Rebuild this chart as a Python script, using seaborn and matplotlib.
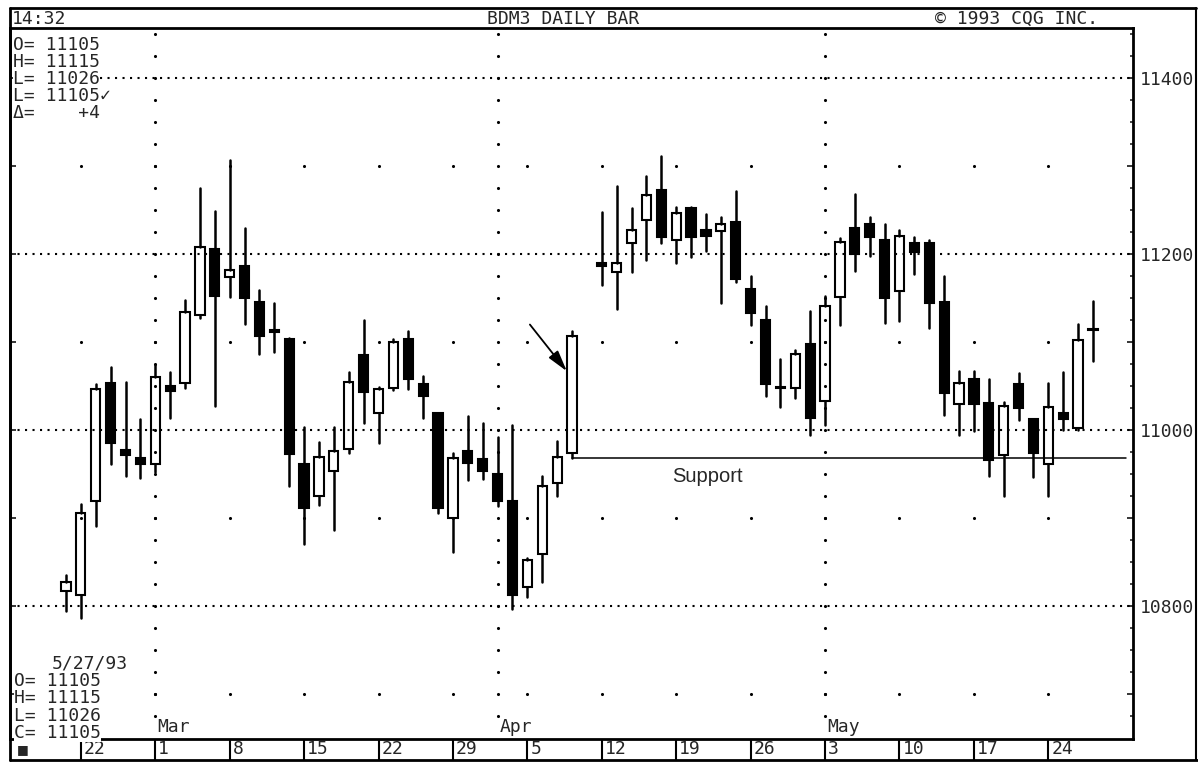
import numpy as np
import pandas as pd
import seaborn as sns
import matplotlib.pyplot as plt

# daily bars, Feb 19 - May 27 1993 (Apr 9 closed)
dates = ['1993-02-19', '1993-02-22', '1993-02-23', '1993-02-24', '1993-02-25', '1993-02-26',
         '1993-03-01', '1993-03-02', '1993-03-03', '1993-03-04', '1993-03-05',
         '1993-03-08', '1993-03-09', '1993-03-10', '1993-03-11', '1993-03-12',
         '1993-03-15', '1993-03-16', '1993-03-17', '1993-03-18', '1993-03-19',
         '1993-03-22', '1993-03-23', '1993-03-24', '1993-03-25', '1993-03-26',
         '1993-03-29', '1993-03-30', '1993-03-31', '1993-04-01', '1993-04-02',
         '1993-04-05', '1993-04-06', '1993-04-07', '1993-04-08',
         '1993-04-12', '1993-04-13', '1993-04-14', '1993-04-15', '1993-04-16',
         '1993-04-19', '1993-04-20', '1993-04-21', '1993-04-22', '1993-04-23',
         '1993-04-26', '1993-04-27', '1993-04-28', '1993-04-29', '1993-04-30',
         '1993-05-03', '1993-05-04', '1993-05-05', '1993-05-06', '1993-05-07',
         '1993-05-10', '1993-05-11', '1993-05-12', '1993-05-13', '1993-05-14',
         '1993-05-17', '1993-05-18', '1993-05-19', '1993-05-20', '1993-05-21',
         '1993-05-24', '1993-05-25', '1993-05-26', '1993-05-27']
opens = [10817, 10813, 10919, 11053, 10977, 10968,
         10962, 11050, 11054, 11131, 11206,
         11174, 11187, 11146, 11112, 11104,
         10961, 10925, 10953, 10978, 11085,
         11020, 11048, 11104, 11052, 11019,
         10900, 10976, 10967, 10950, 10920,
         10822, 10859, 10940, 10974,
         11190, 11180, 11213, 11239, 11273,
         11216, 11252, 11228, 11226, 11236,
         11160, 11125, 11049, 11048, 11098,
         11033, 11151, 11230, 11234, 11216,
         11158, 11213, 11213, 11146, 11030,
         11058, 11031, 10972, 11052, 11013,
         10962, 11019, 11002, 11114]
highs = [10835, 10916, 11053, 11072, 11055, 11013,
         11074, 11066, 11148, 11275, 11249,
         11307, 11230, 11159, 11145, 11105,
         11003, 10986, 11003, 11066, 11125,
         11049, 11104, 11113, 11062, 11020,
         10974, 11016, 11008, 10992, 11006,
         10855, 10948, 10988, 11113,
         11248, 11278, 11252, 11289, 11312,
         11254, 11254, 11246, 11242, 11272,
         11175, 11141, 11081, 11091, 11135,
         11153, 11218, 11268, 11242, 11234,
         11227, 11219, 11216, 11175, 11067,
         11067, 11058, 11032, 11065, 11013,
         11054, 11066, 11121, 11147]
lows = [10794, 10787, 10891, 10961, 10948, 10946,
        10952, 11014, 11048, 11127, 11027,
        11151, 11121, 11086, 11089, 10936,
        10871, 10915, 10887, 10974, 11008,
        10985, 11046, 11047, 11014, 10906,
        10861, 10943, 10945, 10914, 10797,
        10810, 10827, 10925, 10968,
        11165, 11138, 11180, 11193, 11213,
        11190, 11197, 11204, 11145, 11168,
        11120, 11039, 11026, 11036, 10995,
        11006, 11120, 11181, 11198, 11122,
        11124, 11178, 11116, 11017, 10994,
        10999, 10948, 10925, 11012, 10947,
        10925, 11000, 11000, 11079]
closes = [10827, 10906, 11047, 10985, 10972, 10961,
          11060, 11044, 11134, 11208, 11153,
          11182, 11150, 11107, 11114, 10973,
          10912, 10969, 10976, 11055, 11043,
          11047, 11100, 11058, 11039, 10912,
          10968, 10963, 10953, 10920, 10813,
          10852, 10937, 10969, 11107,
          11186, 11190, 11228, 11267, 11219,
          11247, 11220, 11221, 11234, 11172,
          11133, 11053, 11048, 11087, 11014,
          11141, 11214, 11200, 11220, 11150,
          11221, 11202, 11144, 11042, 11054,
          11030, 10966, 11027, 11025, 10974,
          11026, 11013, 11103, 11115]

week_starts = ['1993-02-22', '1993-03-01', '1993-03-08', '1993-03-15', '1993-03-22',
               '1993-03-29', '1993-04-05', '1993-04-12', '1993-04-19', '1993-04-26',
               '1993-05-03', '1993-05-10', '1993-05-17', '1993-05-24']
week_labels = ['22', '1', '8', '15', '22', '29', '5', '12', '19', '26', '3', '10', '17', '24']
month_starts = ['1993-03-01', '1993-04-01', '1993-05-03']
month_labels = ['Mar', 'Apr', 'May']
price_labels = [10800, 11000, 11200, 11400]
week_dot_levels = [10700, 10900, 11100, 11300]

support_start = '1993-04-08'
support_level = 10968
arrow_from = ('1993-04-05', 11120)
arrow_to = ('1993-04-08', 11067)

info_top = ['O= 11105', 'H= 11115', 'L= 11026', 'L= 11105✓', 'Δ=    +4']
info_bottom = ['O= 11105', 'H= 11115', 'L= 11026', 'C= 11105']
info_date = '5/27/93'

first_day = dates[0]
slot = lambda d: np.busday_count(first_day, d)

sns.set_style('white')
mono = ['DejaVu Sans Mono', 'DejaVu Sans']
plt.rcParams['font.family'] = mono

W, H = 1198, 765
fig = plt.figure(figsize=(W / 100, H / 100), dpi=100)
x0, x1, y0, y1 = 10, 1133, 28, 739
ax = fig.add_axes([x0 / W, (H - y1) / H, (x1 - x0) / W, (y1 - y0) / H])

df = pd.DataFrame({'date': dates, 'open': opens, 'high': highs, 'low': lows, 'close': closes})
df['slot'] = [slot(d) for d in df['date']]
df['top'] = df[['open', 'close']].max(axis=1)
df['bot'] = df[['open', 'close']].min(axis=1)

# grid: dense dotted price lines, dots on month lines and week starts
for lvl in price_labels:
    ax.axhline(lvl, color='black', lw=1.5, linestyle=(0, (1, 2.6)), zorder=1)
dots = []
for d in month_starts:
    for lvl in np.arange(10675, 11451, 25):
        dots.append((slot(d), lvl))
for d in week_starts:
    for lvl in week_dot_levels:
        dots.append((slot(d), lvl))
dots = pd.DataFrame(dots, columns=['slot', 'price'])
sns.scatterplot(data=dots, x='slot', y='price', s=5, color='black', linewidth=0,
                legend=False, ax=ax, zorder=1)

# wicks
rows = []
for i, r in df.iterrows():
    rows += [(2 * i, r['slot'], r['high']), (2 * i, r['slot'], r['top']),
             (2 * i + 1, r['slot'], r['bot']), (2 * i + 1, r['slot'], r['low'])]
wicks = pd.DataFrame(rows, columns=['unit', 'slot', 'price'])
sns.lineplot(data=wicks, x='slot', y='price', units='unit', estimator=None, sort=False,
             color='black', linewidth=1.8, legend=False, ax=ax, zorder=2)

# bodies
heights = (df['top'] - df['bot']).clip(lower=1)
faces = ['black' if c < o else 'none' for o, c in zip(df['open'], df['close'])]
ax.bar(df['slot'], heights, bottom=df['bot'], width=0.62, color=faces,
       edgecolor='black', linewidth=1.5, zorder=3)

# support line, label and arrow
ax.plot([slot(support_start), 71.2], [support_level, support_level], color='black', lw=1.1, zorder=2)
ax.text(40.7, 10941, 'Support', family='Liberation Sans', fontsize=14.5, va='baseline', ha='left')
ax.annotate('', xy=(slot(arrow_to[0]) - 0.35, arrow_to[1]),
            xytext=(slot(arrow_from[0]) + 0.17, arrow_from[1]),
            arrowprops=dict(arrowstyle='-|>,head_length=0.8,head_width=0.22',
                            color='black', lw=1.3, mutation_scale=16, shrinkA=0, shrinkB=0))

ax.set_xlim(-3.76, 71.69)
ax.set_ylim(10649, 11457)
ax.set_xlabel('')
ax.set_ylabel('')

# right price scale
ax.yaxis.tick_right()
majors = np.arange(10700, 11401, 100)
ax.set_yticks(majors)
ax.set_yticklabels([str(v) if v in price_labels else '' for v in majors])
ax.set_yticks(np.arange(10675, 11451, 25), minor=True)
ax.tick_params(axis='y', which='major', direction='in', length=4.5, width=1.3,
               left=True, right=True, labelleft=False, labelright=True, pad=5, labelsize=13)
ax.tick_params(axis='y', which='minor', direction='in', length=2.5, width=1.2, left=False, right=True)
ax.set_xticks([])
for sp in ax.spines.values():
    sp.set_linewidth(2)
    sp.set_color('black')

# bottom date row
trans = ax.get_xaxis_transform()
row_h = 21 / (y1 - y0)
ax.vlines([slot(d) for d in week_starts], -row_h, 0, transform=trans, clip_on=False,
          color='black', lw=1.5)
for d, lab in zip(week_starts, week_labels):
    ax.text(slot(d) + 0.2, -row_h / 2, lab, transform=trans, va='center', ha='left', fontsize=13)
for d, lab in zip(month_starts, month_labels):
    ax.text(slot(d) + 0.15, 0.004, lab, transform=trans, va='bottom', ha='left', fontsize=13)

# frame, header and info boxes in pixel space
bg = fig.add_axes([0, 0, 1, 1])
bg.set_xlim(0, W)
bg.set_ylim(H, 0)
bg.axis('off')
bg.set_zorder(5)
bg.plot([10, 1196], [8, 8], color='black', lw=2)
bg.plot([10, 10], [8, 760], color='black', lw=2)
bg.plot([1196, 1196], [8, 760], color='black', lw=1.5)
bg.plot([10, 1198], [760, 760], color='black', lw=2)
bg.text(12, 18.5, '14:32', va='center', ha='left', fontsize=13)
bg.text(563, 18.5, 'BDM3 DAILY BAR', va='center', ha='center', fontsize=13)
bg.text(935, 18.5, '© 1993 CQG INC.', va='center', ha='left', fontsize=13)
box = dict(facecolor='white', edgecolor='none', pad=0)
for k, t in enumerate(info_top):
    bg.text(13, 45 + 17 * k, t, va='center', ha='left', fontsize=13, bbox=box)
bg.text(52, 663, info_date, va='center', ha='left', fontsize=13, bbox=box)
for k, t in enumerate(info_bottom):
    bg.text(14, 681 + 17.4 * k, t, va='center', ha='left', fontsize=13, bbox=box)
bg.text(17, 750, '■', va='center', ha='left', fontsize=9, family='DejaVu Sans')

fig.savefig('out.png', dpi=100, facecolor='white')
